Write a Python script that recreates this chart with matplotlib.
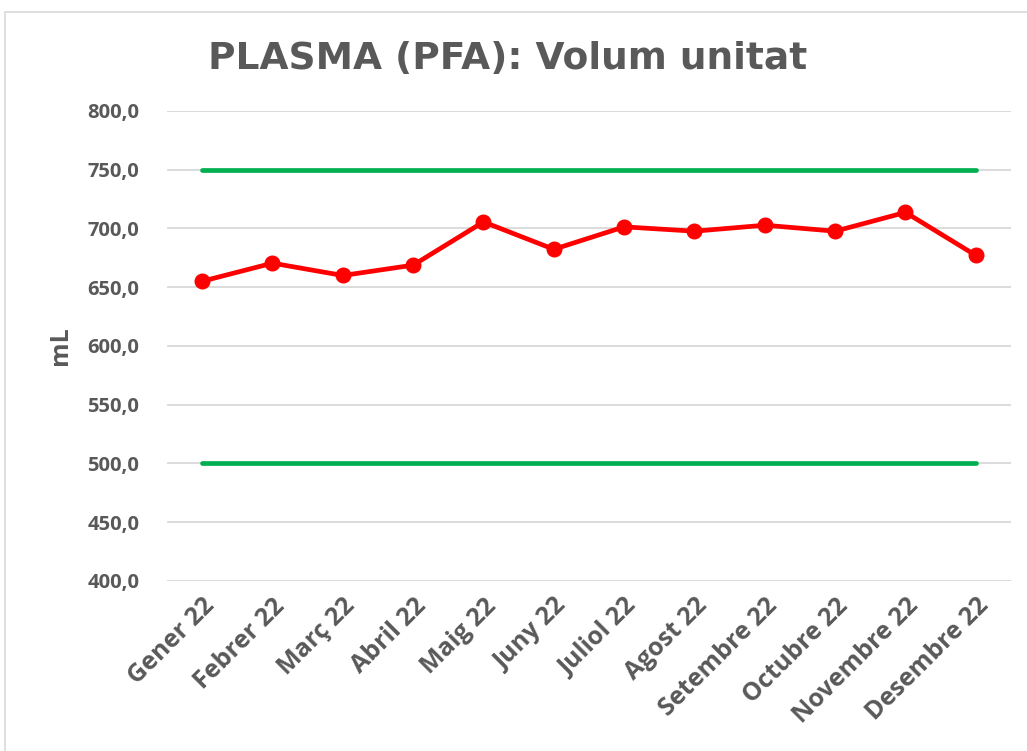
import matplotlib
matplotlib.use("Agg")
import matplotlib.pyplot as plt
from matplotlib.patches import Rectangle
from matplotlib.ticker import FuncFormatter

# Data
mesos = ["Gener 22", "Febrer 22", "Març 22", "Abril 22", "Maig 22", "Juny 22",
         "Juliol 22", "Agost 22", "Setembre 22", "Octubre 22", "Novembre 22", "Desembre 22"]
volum = [655.1, 670.5, 660.0, 668.8, 705.6, 682.3, 701.4, 697.7, 702.8, 697.7, 713.7, 677.1]
limit_sup = [750.0] * len(mesos)
limit_inf = [500.0] * len(mesos)

grey = "#595959"

fig = plt.figure(figsize=(10.27, 7.51), dpi=100)
ax = fig.add_axes([0.1626, 0.2264, 0.8218, 0.6258])

x = list(range(len(mesos)))
ax.plot(x, limit_sup, color="#00B050", lw=3.4, solid_capstyle="round", zorder=3)
ax.plot(x, limit_inf, color="#00B050", lw=3.4, solid_capstyle="round", zorder=3)
ax.plot(x, volum, color="#FF0000", lw=3.4, marker="o", markersize=10.5, zorder=4)

ax.set_xlim(-0.5, len(mesos) - 0.5)
ax.set_ylim(400, 800)
ax.set_yticks(range(400, 801, 50))
ax.yaxis.set_major_formatter(FuncFormatter(lambda v, p: f"{v:.1f}".replace(".", ",")))
ax.grid(axis="y", color="#D9D9D9", lw=1.3)
ax.set_axisbelow(True)
for s in ax.spines.values():
    s.set_visible(False)
ax.tick_params(length=0)
ax.tick_params(axis="y", pad=20)
ax.tick_params(axis="x", pad=9)

ax.set_xticks(x)
ax.set_xticklabels(mesos, rotation=45, ha="right", rotation_mode="anchor",
                   fontsize=18, fontweight="bold", color=grey, family="Open Sans")
for lab in ax.get_yticklabels():
    lab.set_fontsize(14.5)
    lab.set_fontweight("bold")
    lab.set_color(grey)
    lab.set_family("Open Sans")

ax.set_ylabel("mL", fontsize=18, fontweight="bold", color=grey, family="Open Sans", labelpad=10)

fig.text(0.494, 0.922, "PLASMA (PFA): Volum unitat", ha="center", va="center",
         fontsize=27, fontweight="bold", color=grey, family="DejaVu Sans")

# chart border
fig.patches.append(Rectangle((5 / 1027, -0.01), 1.1, 1 - 12 / 751 + 0.01,
                             transform=fig.transFigure, fill=False,
                             edgecolor="#D9D9D9", lw=1.2))

fig.savefig("out.png", dpi=100)
